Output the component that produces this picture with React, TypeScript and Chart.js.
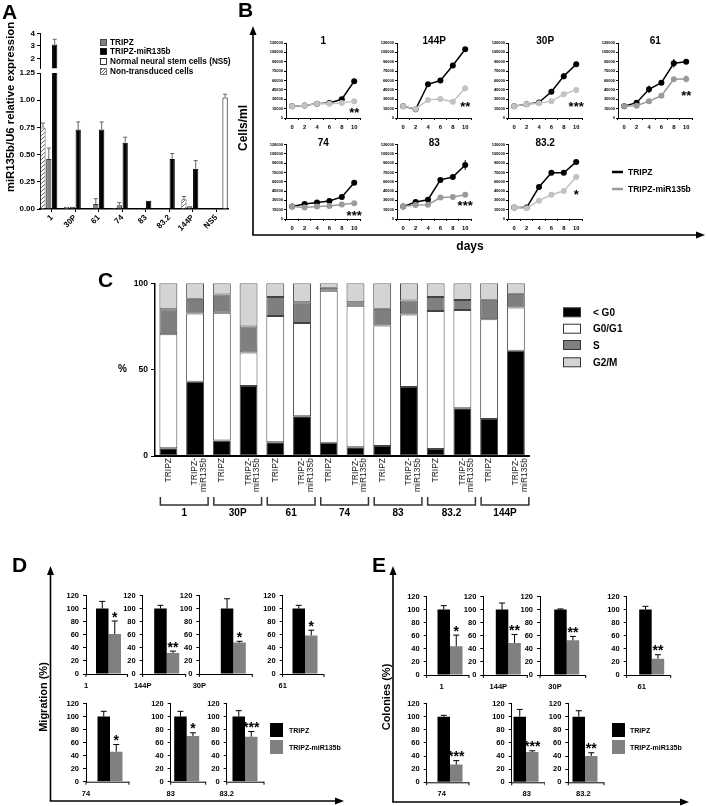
import React, { useEffect, useRef } from "react";
import { Chart, registerables } from "chart.js";

Chart.register(...registerables);

const FONT = "'Liberation Sans', Arial, Helvetica, sans-serif";
Chart.defaults.font.family = FONT;
Chart.defaults.color = "#000";

// ======================= DATA =======================
// Panel A – miR135b/U6 relative expression
const aCategories = ["1", "30P", "61", "74", "83", "83.2", "144P", "NS5"];
const aNonTransduced = [0.75, 0.02, 0.005, 0.01, 0.005, 0.005, 0.09, null];
const aNonTransducedErr = [0.04, 0, 0, 0, 0, 0, 0.025, 0];
const aTripz = [0.46, 0.02, 0.045, 0.035, 0.005, 0.005, 0.025, null];
const aTripzErr = [0.1, 0, 0.05, 0.025, 0, 0, 0, 0];
const aMir = [3.1, 0.73, 0.73, 0.61, 0.075, 0.46, 0.37, null];
const aMirErr = [0.42, 0.07, 0.07, 0.05, 0, 0.05, 0.075, 0];
const aNs5 = [null, null, null, null, null, null, null, 1.025];
const aNs5Err = [0, 0, 0, 0, 0, 0, 0, 0.03];
const aLowTicks = [0, 0.25, 0.5, 0.75, 1.0, 1.25];
const aHighTicks = [2, 3, 4];
const aLegend = ["TRIPZ", "TRIPZ-miR135b", "Normal neural stem cells (NS5)", "Non-transduced cells"];

// Panel B – growth curves (cells/ml vs days)
const bDays = ["0", "2", "4", "6", "8", "10"];
const bYTicks = [0, 15000, 30000, 45000, 60000, 75000, 90000, 105000, 120000];
const bLines = ["1", "144P", "30P", "61", "74", "83", "83.2"];
const b1Tripz = [19000, 20000, 23000, 24000, 30000, 59000];
const b1Mir = [19000, 20000, 23000, 23000, 24000, 27000];
const b144Tripz = [19000, 14000, 54000, 60000, 84000, 110000];
const b144Mir = [19000, 14500, 29000, 30500, 26000, 47500];
const b30Tripz = [19000, 22000, 25000, 42000, 67000, 86000];
const b30Mir = [19000, 22000, 23500, 27000, 38000, 45000];
const b61Tripz = [19000, 24500, 46000, 56500, 87500, 90000];
const b61Mir = [19000, 19500, 27000, 35500, 62000, 62500];
const b74Tripz = [20000, 24000, 26500, 29000, 35500, 58500];
const b74Mir = [20000, 18500, 20000, 21000, 23500, 25500];
const b83Tripz = [20000, 27500, 31000, 63000, 67500, 87000];
const b83Mir = [20000, 22500, 23000, 34500, 35500, 39000];
const b832Tripz = [18500, 18500, 51500, 74500, 74500, 92000];
const b832Mir = [18500, 17500, 29500, 39000, 45000, 67500];
const bNoErr = [0, 0, 0, 0, 0, 0];
const b30TripzErr = [0, 0, 0, 0, 5000, 4000];
const b30MirErr = [0, 0, 0, 0, 0, 5000];
const b61TripzErr = [0, 0, 6000, 0, 7000, 2500];
const b61MirErr = [0, 0, 0, 0, 2000, 6000];
const b83TripzErr = [0, 0, 0, 0, 0, 8000];
const bStars = ["**", "**", "***", "**", "***", "***", "*"];
const bStarY = [12800, 23500, 23500, 41000, 10600, 26600, 44200];
const bLegend = ["TRIPZ", "TRIPZ-miR135b"];

// Panel C – cell cycle distribution (%)
const cSampleLabels: (string | string[])[] = [
  "TRIPZ", ["TRIPZ-", "miR135b"], "TRIPZ", ["TRIPZ-", "miR135b"], "TRIPZ", ["TRIPZ-", "miR135b"],
  "TRIPZ", ["TRIPZ-", "miR135b"], "TRIPZ", ["TRIPZ-", "miR135b"], "TRIPZ", ["TRIPZ-", "miR135b"],
  "TRIPZ", ["TRIPZ-", "miR135b"],
];
const cGroups = ["1", "30P", "61", "74", "83", "83.2", "144P"];
const cSubG0 = [4.5, 43, 9, 40.5, 8, 23, 7.7, 5, 5.8, 40, 4, 27.6, 21.4, 61];
const cG0G1 = [66, 39.5, 74, 19.5, 73, 54, 88, 82, 69.7, 42, 80, 57, 57.8, 25];
const cS = [14.5, 8.5, 10.5, 15, 11, 12, 1.7, 2, 9.8, 8, 8, 5.7, 11.3, 8];
const cG2M = [15, 9, 6.5, 25, 8, 11, 2.6, 11, 14.7, 10, 8, 9.7, 9.5, 6];
const cYTicks = [0, 50, 100];
const cLegend = ["< G0", "G0/G1", "S", "G2/M"];

// Panel D – migration (%)
const dLines = ["1", "144P", "30P", "61", "74", "83", "83.2"];
const dTripz = [100, 100, 100, 100, 100, 100, 100];
const dTripzErr = [11, 5, 15, 5, 8, 8, 9];
const dMir = [61, 32, 48, 59, 46, 70, 69];
const dMirErr = [20, 3, 2, 8, 11, 5, 8];
const dStars = ["*", "**", "*", "*", "*", "*", "***"];

// Panel E – colonies (%)
const eLines = ["1", "144P", "30P", "61", "74", "83", "83.2"];
const eTripz = [100, 100, 100, 100, 100, 100, 100];
const eTripzErr = [6, 10, 1, 5, 2, 11, 9];
const eMir = [44, 49, 53, 25, 27, 46, 40];
const eMirErr = [17, 13, 6, 6, 6, 2, 5];
const eStars = ["*", "**", "**", "**", "***", "***", "**"];
const deYTicks = [0, 20, 40, 60, 80, 100, 120];
const deLegend = ["TRIPZ", "TRIPZ-miR135b"];

// ======================= LAYOUT (positions / styles) =======================
const bPlotLeft = [286, 397, 508, 618, 286, 397, 508];
const bPlotTop = [43, 43, 43, 43, 144.5, 144.5, 144.5];
const bPlotBottom = [118, 118, 118, 118, 219, 219, 219];
const B_PLOT_W = 74.4;
const bGray = ["#c2c2c2", "#c2c2c2", "#c2c2c2", "#9a9a9a", "#9a9a9a", "#9a9a9a", "#c2c2c2"];

const dLeft = [86, 142.7, 199.3, 282.7, 86, 170.7, 226.7];
const dCenter = [108.5, 166.7, 233.3, 305, 110, 186.7, 245];
const dTop = [595, 595, 595, 595, 703.3, 703.3, 703.3];
const dBottom = [674, 674, 674, 674, 781.7, 781.7, 781.7];
const eLeft = [426.7, 483.3, 540, 626.7, 426.7, 511.7, 568.3];
const eCenter = [450, 508.3, 566.7, 651.7, 450, 526, 585];
const eTop = [596, 596, 596, 596, 703.3, 703.3, 703.3];
const eBottom = [675, 675, 675, 675, 782.3, 782.3, 782.3];

// ======================= HELPERS =======================
type Box = { left: number; top: number; width: number; height: number };
type Spec = { key: string; box: Box; build: () => any };

function geom(l: number, t: number, r: number, b: number, yW: number, xH: number, pl: number, pt: number, pr: number, pb: number) {
  const left = Math.floor(l - yW - pl);
  const top = Math.floor(t - pt);
  const right = Math.ceil(r + pr);
  const bottom = Math.ceil(b + xH + pb);
  return {
    box: { left, top, width: right - left, height: bottom - top },
    padding: { left: l - yW - left, top: t - top, right: right - r, bottom: bottom - b - xH },
  };
}

function baseOpts(padding: any) {
  return {
    responsive: false,
    maintainAspectRatio: false,
    animation: false,
    events: [],
    devicePixelRatio: 1,
    layout: { padding },
    plugins: { legend: { display: false }, tooltip: { enabled: false }, title: { display: false } },
  };
}

function yAxis(o: { min: number; max: number; ticks: number[]; width: number; size: number; tickLen: number; pad: number; fmt?: (v: number) => string; borderW?: number }) {
  return {
    type: "linear",
    min: o.min,
    max: o.max,
    afterFit: (s: any) => { s.width = o.width; },
    afterBuildTicks: (s: any) => { s.ticks = o.ticks.map((v) => ({ value: v })); },
    ticks: {
      autoSkip: false,
      padding: o.pad,
      color: "#000",
      font: { family: FONT, size: o.size, weight: "bold" },
      callback: (v: any) => (o.fmt ? o.fmt(Number(v)) : String(v)),
    },
    grid: { display: true, drawOnChartArea: false, drawTicks: true, tickLength: o.tickLen, color: "#000", lineWidth: 1 },
    border: { display: true, color: "#000", width: o.borderW || 1 },
  };
}

function xCat(o: { height: number; size: number; weight?: string; rotation?: number; tickLen: number; pad: number; gridOffset: boolean; show: boolean; color?: string; lineHeight?: number; borderW?: number; noLine?: boolean }) {
  return {
    type: "category",
    offset: true,
    afterFit: (s: any) => { s.height = o.height; },
    ticks: {
      display: o.show,
      autoSkip: false,
      maxRotation: o.rotation || 0,
      minRotation: o.rotation || 0,
      padding: o.pad,
      color: o.color || "#000",
      font: { family: FONT, size: o.size, weight: o.weight || "bold", lineHeight: o.lineHeight || 1.2 },
    },
    grid: { display: !o.noLine, drawOnChartArea: false, drawTicks: o.tickLen > 0, tickLength: o.tickLen, offset: o.gridOffset, color: "#000", lineWidth: 1 },
    border: { display: !o.noLine, color: "#000", width: o.borderW || 1 },
  };
}

function errorBarsPlugin(errs: (number[] | null)[], o: { color?: string; width: number; cap: number; both: boolean }) {
  return {
    id: "errorBars",
    afterDatasetsDraw(chart: any) {
      const ctx = chart.ctx as CanvasRenderingContext2D;
      const a = chart.chartArea;
      const ys = chart.scales.y;
      ctx.save();
      ctx.beginPath();
      ctx.rect(a.left - 20, a.top - 0.5, a.right - a.left + 40, a.bottom - a.top + 1);
      ctx.clip();
      chart.data.datasets.forEach((ds: any, i: number) => {
        const e = errs[i];
        if (!e) return;
        const meta = chart.getDatasetMeta(i);
        ctx.strokeStyle = o.color || ds.borderColor;
        ctx.lineWidth = o.width;
        meta.data.forEach((el: any, j: number) => {
          const v = ds.data[j];
          const d = e[j];
          if (v === null || v === undefined || !d) return;
          const x = el.x;
          const yTop = ys.getPixelForValue(v + d);
          const yBot = ys.getPixelForValue(o.both ? v - d : v);
          ctx.beginPath();
          ctx.moveTo(x, yBot);
          ctx.lineTo(x, yTop);
          if (o.cap > 0) {
            ctx.moveTo(x - o.cap / 2, yTop);
            ctx.lineTo(x + o.cap / 2, yTop);
          }
          ctx.stroke();
        });
      });
      ctx.restore();
    },
  };
}

function drawPlugin(id: string, fn: (chart: any, ctx: CanvasRenderingContext2D) => void) {
  return {
    id,
    afterDraw(chart: any) {
      const ctx = chart.ctx as CanvasRenderingContext2D;
      ctx.save();
      fn(chart, ctx);
      ctx.restore();
    },
  };
}

function makeHatch(): any {
  const c = document.createElement("canvas");
  c.width = 4;
  c.height = 4;
  const g = c.getContext("2d");
  if (!g) return "#ccc";
  g.fillStyle = "#fff";
  g.fillRect(0, 0, 4, 4);
  g.strokeStyle = "#555";
  g.lineWidth = 0.9;
  g.beginPath();
  g.moveTo(0, 4); g.lineTo(4, 0);
  g.moveTo(-1, 1); g.lineTo(1, -1);
  g.moveTo(3, 5); g.lineTo(5, 3);
  g.stroke();
  return g.createPattern(c, "repeat") || "#ccc";
}

function aDatasets() {
  const common = { categoryPercentage: 1, barPercentage: 0.9, borderWidth: 1, clip: 0 };
  return [
    { ...common, label: aLegend[3], data: aNonTransduced, backgroundColor: makeHatch(), borderColor: "#555" },
    { ...common, label: aLegend[0], data: aTripz, backgroundColor: "#808080", borderColor: "#333" },
    { ...common, label: aLegend[1], data: aMir, backgroundColor: "#000", borderColor: "#000" },
    { ...common, label: aLegend[2], data: aNs5, backgroundColor: "#fff", borderColor: "#000" },
  ];
}
const aErrs = [aNonTransducedErr, aTripzErr, aMirErr, aNs5Err];

// ======================= CHART SPECS =======================
const specs: Spec[] = [];

// --- Panel A, upper (broken) segment
{
  const g = geom(40, 33.3, 228, 68.3, 40, 0, 0, 8, 6, 8);
  specs.push({
    key: "aTop",
    box: g.box,
    build: () => ({
      type: "bar",
      data: { labels: aCategories, datasets: aDatasets() },
      options: {
        ...baseOpts(g.padding),
        scales: {
          x: { type: "category", display: false, offset: true },
          y: yAxis({ min: 1.2, max: 4, ticks: aHighTicks, width: 40, size: 8, tickLen: 3, pad: 2 }),
        },
      },
      plugins: [errorBarsPlugin(aErrs, { color: "#666", width: 1, cap: 4, both: false })],
    }),
  });
}
// --- Panel A, lower segment
{
  const g = geom(40, 73, 228, 209, 40, 36, 0, 8, 8, 2);
  specs.push({
    key: "aBottom",
    box: g.box,
    build: () => ({
      type: "bar",
      data: { labels: aCategories, datasets: aDatasets() },
      options: {
        ...baseOpts(g.padding),
        scales: {
          x: xCat({ height: 36, size: 8, rotation: 45, tickLen: 3, pad: 1, gridOffset: false, show: true, borderW: 1.5 }),
          y: yAxis({ min: 0, max: 1.25, ticks: aLowTicks, width: 40, size: 8, tickLen: 3, pad: 2, fmt: (v) => v.toFixed(2) }),
        },
      },
      plugins: [errorBarsPlugin(aErrs, { color: "#666", width: 1, cap: 4, both: false })],
    }),
  });
}

// --- Panel B
const bTripzSeries = [b1Tripz, b144Tripz, b30Tripz, b61Tripz, b74Tripz, b83Tripz, b832Tripz];
const bMirSeries = [b1Mir, b144Mir, b30Mir, b61Mir, b74Mir, b83Mir, b832Mir];
const bTripzErrSeries = [bNoErr, bNoErr, b30TripzErr, b61TripzErr, bNoErr, b83TripzErr, bNoErr];
const bMirErrSeries = [bNoErr, bNoErr, b30MirErr, b61MirErr, bNoErr, bNoErr, bNoErr];
bLines.forEach((name, i) => {
  const l = bPlotLeft[i];
  const t = bPlotTop[i];
  const b = bPlotBottom[i];
  const g = geom(l, t, l + B_PLOT_W, b, 17, 14, 1, 10, 4, 0);
  const gray = bGray[i];
  specs.push({
    key: "b" + i,
    box: g.box,
    build: () => ({
      type: "line",
      data: {
        labels: bDays,
        datasets: [
          { data: bMirSeries[i], borderColor: gray, backgroundColor: gray, pointBackgroundColor: gray, pointBorderColor: gray, pointRadius: 3, pointBorderWidth: 0, borderWidth: 1.5, tension: 0, clip: false },
          { data: bTripzSeries[i], borderColor: "#000", backgroundColor: "#000", pointBackgroundColor: "#000", pointBorderColor: "#000", pointRadius: 3, pointBorderWidth: 0, borderWidth: 1.5, tension: 0, clip: false },
        ],
      },
      options: {
        ...baseOpts(g.padding),
        scales: {
          x: xCat({ height: 14, size: 5.8, tickLen: 2, pad: 3.5, gridOffset: true, show: true }),
          y: yAxis({ min: 0, max: 120000, ticks: bYTicks, width: 17, size: 4, tickLen: 2, pad: 1 }),
        },
      },
      plugins: [
        errorBarsPlugin([bMirErrSeries[i], bTripzErrSeries[i]], { width: 1, cap: 0, both: true }),
        drawPlugin("bText", (chart, ctx) => {
          const a = chart.chartArea;
          const xs = chart.scales.x;
          const ys = chart.scales.y;
          ctx.fillStyle = "#000";
          ctx.textAlign = "center";
          ctx.textBaseline = "middle";
          ctx.font = `bold 10px ${FONT}`;
          ctx.fillText(name, (a.left + a.right) / 2, a.top - 1.5);
          ctx.textBaseline = "alphabetic";
          ctx.font = `bold 13px ${FONT}`;
          ctx.fillText(bStars[i], xs.getPixelForValue(5), ys.getPixelForValue(bStarY[i]) + 7.3);
        }),
      ],
    }),
  });
});

// --- Panel C
{
  const g = geom(155, 283.3, 531, 456, 40, 70, 0, 8, 4, 0);
  const seg = { borderColor: "#444", borderWidth: 1, borderSkipped: false, categoryPercentage: 1, barPercentage: 0.67 };
  specs.push({
    key: "c",
    box: g.box,
    build: () => ({
      type: "bar",
      data: {
        labels: cSampleLabels,
        datasets: [
          { ...seg, label: cLegend[0], data: cSubG0, backgroundColor: "#000" },
          { ...seg, label: cLegend[1], data: cG0G1, backgroundColor: "#fff" },
          { ...seg, label: cLegend[2], data: cS, backgroundColor: "#7f7f7f" },
          { ...seg, label: cLegend[3], data: cG2M, backgroundColor: "#d4d4d4" },
        ],
      },
      options: {
        ...baseOpts(g.padding),
        scales: {
          x: { ...xCat({ height: 70, size: 8.5, weight: "normal", rotation: 90, tickLen: 0, pad: 2, gridOffset: true, show: true, color: "#222", lineHeight: 1.0, borderW: 2 }), stacked: true },
          y: { ...yAxis({ min: 0, max: 100, ticks: cYTicks, width: 40, size: 8.5, tickLen: 4, pad: 3, borderW: 1.5 }), stacked: true },
        },
      },
      plugins: [
        drawPlugin("cText", (chart, ctx) => {
          const a = chart.chartArea;
          const xs = chart.scales.x;
          ctx.fillStyle = "#000";
          ctx.strokeStyle = "#333";
          ctx.lineWidth = 1.5;
          ctx.textAlign = "center";
          ctx.textBaseline = "middle";
          ctx.font = `bold 10px ${FONT}`;
          ctx.fillText("%", a.left - 32.5, (a.top + a.bottom) / 2);
          const by = a.bottom + 49;
          cGroups.forEach((gname, k) => {
            const x1 = xs.getPixelForValue(2 * k) - 8;
            const x2 = xs.getPixelForValue(2 * k + 1) + 13;
            ctx.beginPath();
            ctx.moveTo(x1, by - 8);
            ctx.lineTo(x1, by);
            ctx.lineTo(x2, by);
            ctx.lineTo(x2, by - 8);
            ctx.stroke();
            ctx.fillText(gname, (x1 + x2) / 2, by + 8.5);
          });
        }),
      ],
    }),
  });
}

// --- Panels D & E
function deSpecs(prefix: string, names: string[], tripz: number[], tripzErr: number[], mir: number[], mirErr: number[], stars: string[], lefts: number[], centers: number[], tops: number[], bottoms: number[], labelOffset: number) {
  names.forEach((name, i) => {
    const l = lefts[i];
    const r = 2 * centers[i] - l;
    const t = tops[i];
    const b = bottoms[i];
    const g = geom(l, t, r, b, 25, 16, 0, 8, 4, 0);
    const cp = 25 / (r - l);
    specs.push({
      key: prefix + i,
      box: g.box,
      build: () => ({
        type: "bar",
        data: {
          labels: [name],
          datasets: [
            { data: [tripz[i]], backgroundColor: "#000", borderWidth: 0, categoryPercentage: cp, barPercentage: 1 },
            { data: [mir[i]], backgroundColor: "#808080", borderWidth: 0, categoryPercentage: cp, barPercentage: 1 },
          ],
        },
        options: {
          ...baseOpts(g.padding),
          scales: {
            x: xCat({ height: 16, size: 7.5, tickLen: 3, pad: 2, gridOffset: true, show: false, noLine: true }),
            y: yAxis({ min: 0, max: 120, ticks: deYTicks, width: 25, size: 7.5, tickLen: 3, pad: 4 }),
          },
        },
        plugins: [
          errorBarsPlugin([[tripzErr[i]], [mirErr[i]]], { color: "#000", width: 1, cap: 6, both: false }),
          drawPlugin("deText", (chart, ctx) => {
            const a = chart.chartArea;
            const ys = chart.scales.y;
            const gEl = chart.getDatasetMeta(1).data[0];
            const gx = gEl.x;
            const axisEnd = gx + gEl.width / 2 + 6.5;
            // x axis line with end ticks
            ctx.strokeStyle = "#000";
            ctx.lineWidth = 1;
            ctx.beginPath();
            ctx.moveTo(a.left, a.bottom + 0.5);
            ctx.lineTo(axisEnd, a.bottom + 0.5);
            ctx.moveTo(a.left, a.bottom);
            ctx.lineTo(a.left, a.bottom + 3);
            ctx.moveTo(axisEnd, a.bottom);
            ctx.lineTo(axisEnd, a.bottom + 3);
            ctx.stroke();
            ctx.fillStyle = "#000";
            ctx.textAlign = "center";
            ctx.textBaseline = "middle";
            ctx.font = `bold 7.5px ${FONT}`;
            ctx.fillText(name, a.left + labelOffset, a.bottom + 12);
            ctx.textBaseline = "alphabetic";
            ctx.font = `bold 14px ${FONT}`;
            ctx.fillText(stars[i], gx, ys.getPixelForValue(mir[i] + mirErr[i]) + 0.5);
          }),
        ],
      }),
    });
  });
}
deSpecs("d", dLines, dTripz, dTripzErr, dMir, dMirErr, dStars, dLeft, dCenter, dTop, dBottom, 0);
deSpecs("e", eLines, eTripz, eTripzErr, eMir, eMirErr, eStars, eLeft, eCenter, eTop, eBottom, 15);

// ======================= COMPONENTS =======================
function ChartCanvas({ spec }: { spec: Spec }) {
  const ref = useRef<HTMLCanvasElement | null>(null);
  useEffect(() => {
    if (!ref.current) return;
    const chart = new Chart(ref.current, spec.build());
    return () => chart.destroy();
  }, [spec]);
  const b = spec.box;
  return (
    <canvas
      ref={ref}
      width={b.width}
      height={b.height}
      style={{ position: "absolute", left: b.left, top: b.top, width: b.width, height: b.height }}
    />
  );
}

function UpArrow({ x, y0, tip }: { x: number; y0: number; tip: number }) {
  return (
    <g>
      <line x1={x} y1={y0} x2={x} y2={tip + 7} stroke="#000" strokeWidth={1.6} />
      <polygon points={`${x},${tip} ${x - 3.5},${tip + 9} ${x + 3.5},${tip + 9}`} fill="#000" />
    </g>
  );
}
function RightArrow({ y, x0, tip }: { y: number; x0: number; tip: number }) {
  return (
    <g>
      <line x1={x0} y1={y} x2={tip - 7} y2={y} stroke="#000" strokeWidth={1.6} />
      <polygon points={`${tip},${y} ${tip - 9},${y - 3.5} ${tip - 9},${y + 3.5}`} fill="#000" />
    </g>
  );
}

function Overlay() {
  const aRows = [42.5, 51.5, 61.5, 71.5];
  const aFills = ["#808080", "#000", "#fff", "url(#hatchPat)"];
  const aStrokes = ["#333", "#000", "#000", "#555"];
  const cRows = [312.3, 328.7, 345, 362.3];
  const cFills = ["#000", "#fff", "#7f7f7f", "#d4d4d4"];
  return (
    <svg width={706} height={806} style={{ position: "absolute", left: 0, top: 0, pointerEvents: "none" }} fontFamily={FONT}>
      <defs>
        <pattern id="hatchPat" width={3} height={3} patternUnits="userSpaceOnUse">
          <rect width={3} height={3} fill="#fff" />
          <path d="M0,3 L3,0 M-1,1 L1,-1 M2,4 L4,2" stroke="#444" strokeWidth={0.8} />
        </pattern>
      </defs>
      {/* panel letters */}
      <text x={2} y={18.5} fontSize={21} fontWeight="bold">A</text>
      <text x={238} y={17} fontSize={21} fontWeight="bold">B</text>
      <text x={98} y={287} fontSize={21} fontWeight="bold">C</text>
      <text x={12} y={571.5} fontSize={21} fontWeight="bold">D</text>
      <text x={372} y={572} fontSize={21} fontWeight="bold">E</text>

      {/* Panel A */}
      <text x={10} y={107} transform="rotate(-90 10 107)" textAnchor="middle" dominantBaseline="central" fontSize={11.3} fontWeight="bold">
        miR135b/U6 relative expression
      </text>
      {aLegend.map((s, k) => (
        <g key={"al" + k}>
          <rect x={100.5} y={aRows[k] - 3} width={6} height={6} fill={aFills[k]} stroke={aStrokes[k]} strokeWidth={0.8} />
          <text x={110} y={aRows[k]} dominantBaseline="central" fontSize={8.2} fontWeight="bold">{s}</text>
        </g>
      ))}

      {/* Panel B frame */}
      <UpArrow x={253} y0={235} tip={26} />
      <RightArrow y={235} x0={252.2} tip={705} />
      <text x={243} y={128} transform="rotate(-90 243 128)" textAnchor="middle" dominantBaseline="central" fontSize={12} fontWeight="bold">Cells/ml</text>
      <text x={470} y={246} textAnchor="middle" dominantBaseline="central" fontSize={12} fontWeight="bold">days</text>
      <line x1={612} y1={172} x2={623} y2={172} stroke="#000" strokeWidth={2.5} />
      <line x1={612} y1={189} x2={623} y2={189} stroke="#999" strokeWidth={2.5} />
      <text x={628} y={172} dominantBaseline="central" fontSize={8.5} fontWeight="bold">{bLegend[0]}</text>
      <text x={628} y={189} dominantBaseline="central" fontSize={8.5} fontWeight="bold">{bLegend[1]}</text>

      {/* Panel C legend */}
      {cLegend.map((s, k) => (
        <g key={"cl" + k}>
          <rect x={563.5} y={cRows[k] - 4.5} width={17} height={9} fill={cFills[k]} stroke="#333" strokeWidth={1} />
          <text x={593} y={cRows[k]} dominantBaseline="central" fontSize={10} fontWeight="bold">{s}</text>
        </g>
      ))}

      {/* Panel D frame + legend */}
      <UpArrow x={50.5} y0={801} tip={566} />
      <RightArrow y={801} x0={49.7} tip={344} />
      <text x={43} y={697} transform="rotate(-90 43 697)" textAnchor="middle" dominantBaseline="central" fontSize={11} fontWeight="bold">Migration (%)</text>
      <rect x={270} y={723} width={13} height={14} fill="#000" />
      <rect x={270} y={740} width={13} height={14} fill="#808080" />
      <text x={289} y={730} dominantBaseline="central" fontSize={7} fontWeight="bold">{deLegend[0]}</text>
      <text x={289} y={747} dominantBaseline="central" fontSize={7} fontWeight="bold">{deLegend[1]}</text>

      {/* Panel E frame + legend */}
      <UpArrow x={393} y0={802} tip={566} />
      <RightArrow y={802} x0={392.2} tip={689} />
      <text x={386} y={697} transform="rotate(-90 386 697)" textAnchor="middle" dominantBaseline="central" fontSize={11} fontWeight="bold">Colonies (%)</text>
      <rect x={612} y={723} width={13} height={14} fill="#000" />
      <rect x={612} y={740} width={13} height={14} fill="#808080" />
      <text x={630} y={730} dominantBaseline="central" fontSize={7} fontWeight="bold">{deLegend[0]}</text>
      <text x={630} y={747} dominantBaseline="central" fontSize={7} fontWeight="bold">{deLegend[1]}</text>
    </svg>
  );
}

export default function App() {
  return (
    <div style={{ position: "absolute", left: 0, top: 0, width: 706, height: 806, overflow: "hidden", background: "#fff" }}>
      {specs.map((s) => (
        <ChartCanvas key={s.key} spec={s} />
      ))}
      <Overlay />
    </div>
  );
}
